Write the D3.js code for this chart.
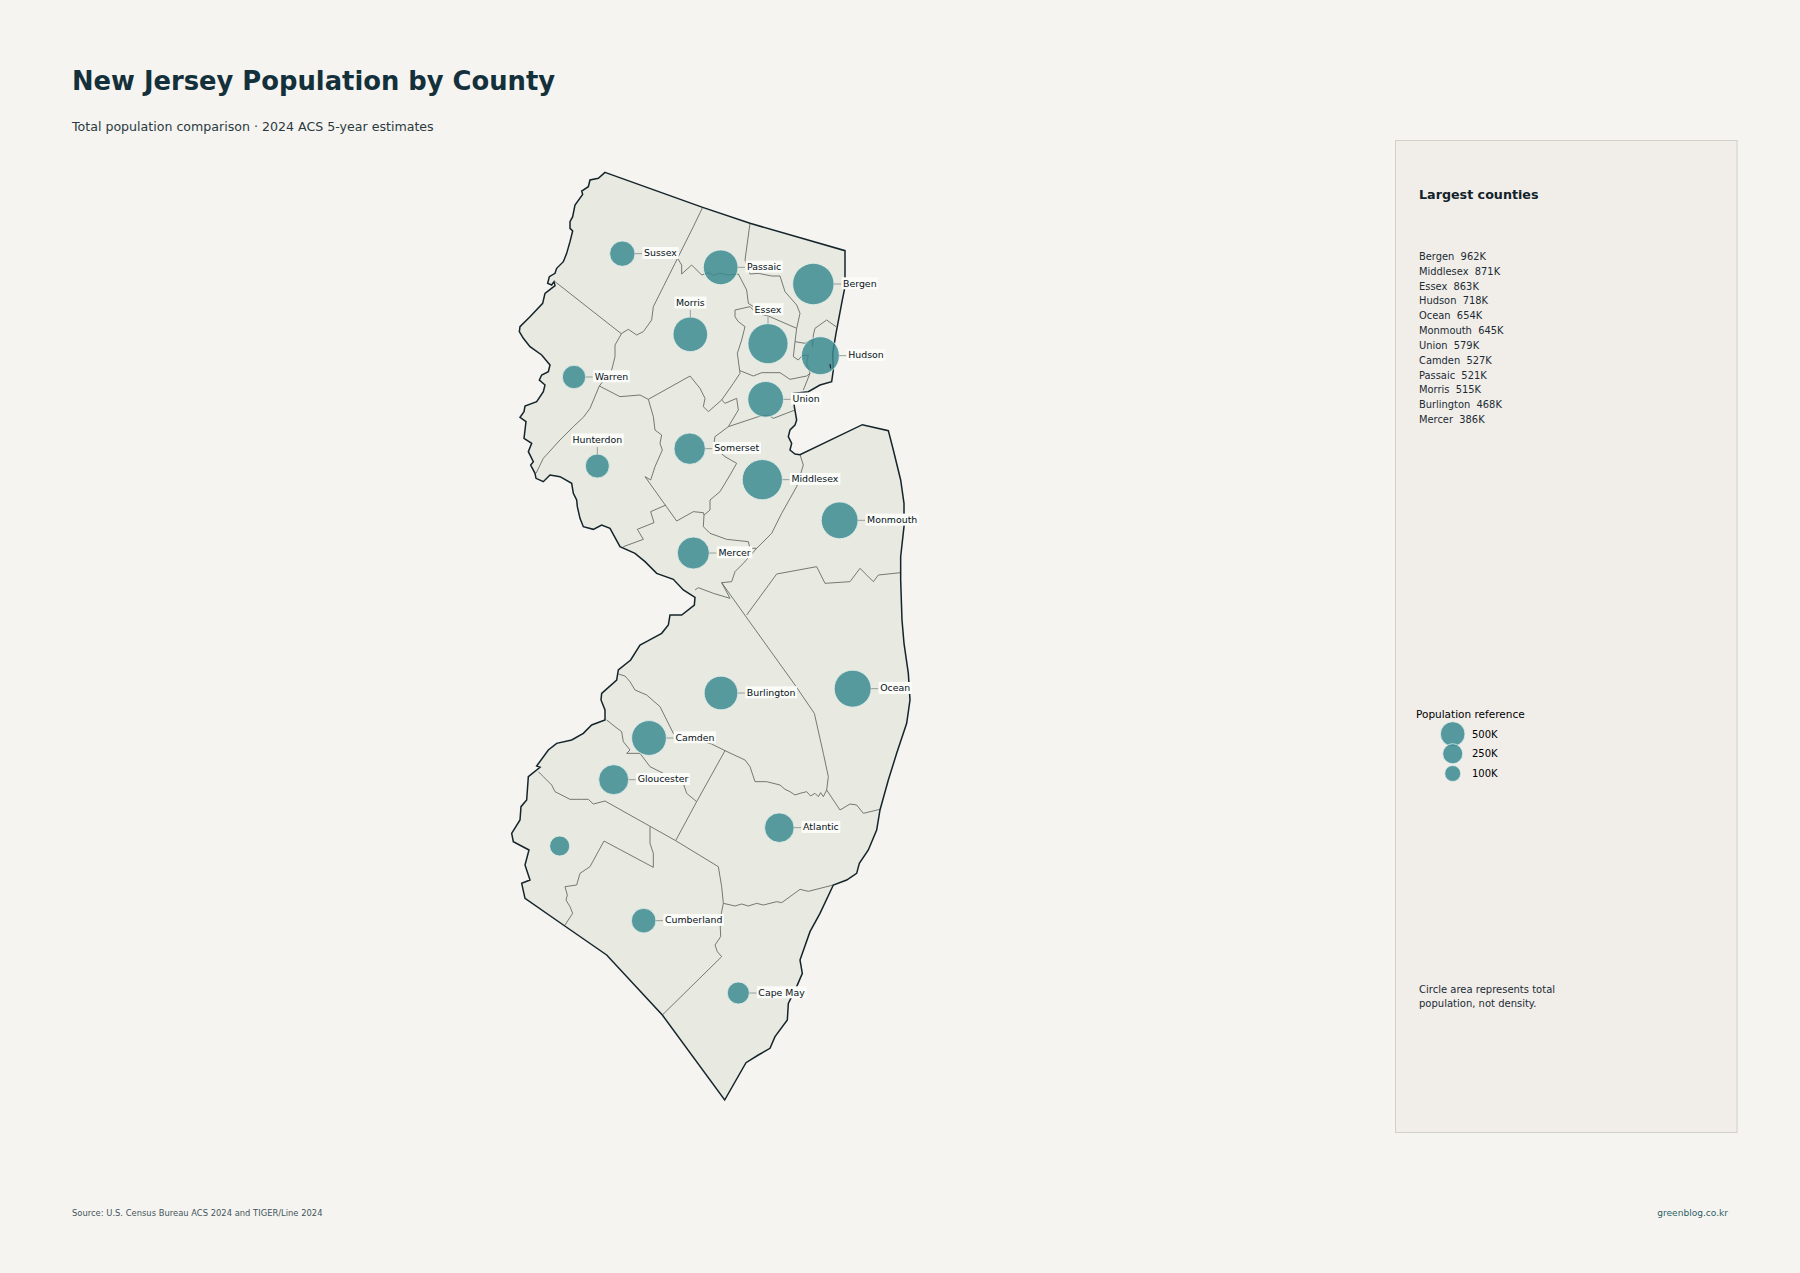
<!DOCTYPE html>
<html>
<head>
<meta charset="utf-8">
<title>New Jersey Population by County</title>
<script src="https://cdn.jsdelivr.net/npm/d3@7"></script>
<style>
  html, body { margin: 0; padding: 0; background: #f5f4f0; }
  svg { display: block; font-family: "DejaVu Sans", sans-serif; }
</style>
</head>
<body>
<svg id="map" width="1800" height="1273"></svg>
<script>
// County table (population in thousands, bubble anchor in map units)
const counties = ['Sussex', 'Passaic', 'Bergen', 'Morris', 'Essex', 'Hudson', 'Warren', 'Union', 'Hunterdon', 'Somerset', 'Middlesex', 'Monmouth', 'Mercer', 'Burlington', 'Ocean', 'Camden', 'Gloucester', 'Salem', 'Atlantic', 'Cumberland', 'Cape May'];
const population = [130, 521, 962, 515, 863, 718, 80, 579, 95, 353, 871, 645, 386, 468, 654, 527, 291, 25, 275, 110, 55];
const anchorX = [427, 722, 1000, 631, 864, 1021, 282, 857, 352, 629, 847, 1079, 640, 723, 1118, 507, 401, 239, 898, 491, 775];
const anchorY = [311, 352, 402, 553, 581, 617, 681, 748, 948, 896, 989, 1111, 1209, 1629, 1616, 1764, 1889, 2088, 2033, 2312, 2529];
const labelSide = ['right', 'right', 'right', 'top', 'top', 'right', 'right', 'right', 'top', 'right', 'right', 'right', 'right', 'right', 'right', 'right', 'right', 'none', 'right', 'right', 'right'];

// Sidebar
const rankNames = ['Bergen', 'Middlesex', 'Essex', 'Hudson', 'Ocean', 'Monmouth', 'Union', 'Camden', 'Passaic', 'Morris', 'Burlington', 'Mercer'];
const rankValues = [962, 871, 863, 718, 654, 645, 579, 527, 521, 515, 468, 386];
const referenceValues = [500, 250, 100];
const noteLines = ['Circle area represents total', 'population, not density.'];

// State outline, clockwise from the NW corner (map units)
const outline = [[375,67],[668,172],[810,220],[1095,302],[1095,410],[1085,460],[1068,550],[1058,610],[1060,660],[1055,695],[1020,705],[985,725],[940,730],[943,770],[950,810],[945,825],[930,840],[925,860],[935,880],[930,900],[945,912],[960,914],[1147,824],[1225,842],[1240,900],[1262,990],[1272,1060],[1272,1130],[1262,1220],[1262,1290],[1266,1410],[1272,1480],[1285,1570],[1290,1650],[1280,1720],[1250,1810],[1225,1890],[1200,1980],[1190,2040],[1165,2100],[1138,2140],[1130,2170],[1100,2190],[1060,2205],[1020,2290],[990,2345],[960,2430],[967,2470],[950,2510],[925,2560],[922,2610],[885,2660],[870,2695],[835,2715],[798,2738],[734,2850],[547,2595],[380,2415],[250,2325],[135,2245],[125,2200],[150,2190],[135,2145],[147,2100],[100,2075],[95,2050],[120,2010],[123,1970],[140,1950],[145,1880],[180,1852],[170,1848],[205,1800],[230,1780],[275,1770],[310,1750],[335,1725],[375,1710],[375,1680],[363,1650],[365,1630],[410,1590],[415,1560],[452,1530],[480,1485],[505,1472],[545,1450],[565,1425],[570,1395],[605,1395],[643,1365],[645,1342],[610,1320],[580,1288],[530,1270],[495,1235],[465,1210],[420,1190],[390,1135],[365,1125],[340,1138],[310,1130],[300,1105],[292,1070],[290,1050],[280,1030],[275,1000],[240,980],[210,975],[190,995],[168,985],[165,970],[152,945],[160,935],[145,905],[155,880],[132,865],[135,840],[138,815],[120,802],[132,785],[135,768],[170,755],[190,725],[195,705],[178,690],[185,675],[205,665],[210,645],[185,615],[150,590],[130,565],[118,545],[120,530],[150,500],[188,460],[195,430],[225,407],[222,395],[215,405],[203,400],[208,380],[225,370],[230,355],[250,335],[260,310],[270,275],[278,243],[270,235],[270,215],[278,200],[285,165],[308,133],[305,123],[325,110],[330,90],[355,85]];

// County borders, one line per shared stretch (map units)
const borders = [
  [[668,172],[640,230],[600,310],[585,340],[550,410],[520,470],[515,510],[490,545],[470,555],[445,538],[425,550]],
  [[225,395],[425,552]],
  [[425,550],[405,585],[405,620],[395,660],[358,708]],
  [[358,708],[330,775],[310,802],[280,830],[240,870],[190,925],[168,970]],
  [[358,708],[420,740],[480,735],[505,748]],
  [[505,748],[630,678],[660,715],[675,745],[670,770],[685,785],[725,750],[760,700],[780,670],[772,610],[785,570],[795,530],[775,515],[765,500],[765,480],[810,470],[830,490],[865,498],[950,535]],
  [[590,320],[605,345],[605,372],[635,345],[665,375],[685,368],[700,376],[720,370],[745,375],[775,372],[800,420],[805,460],[820,470]],
  [[810,220],[795,330],[810,372],[835,370],[875,378],[900,378],[915,425],[950,465],[960,490],[950,535],[945,575],[940,620],[955,630],[965,618]],
  [[945,575],[975,580],[995,568],[998,590],[1000,555],[1005,535],[1040,510],[1068,530]],
  [[965,618],[985,615],[980,640],[990,670]],
  [[780,662],[820,678],[845,668],[900,668],[930,688],[980,678],[990,670],[970,720]],
  [[725,750],[735,760],[770,745],[775,780],[745,830]],
  [[745,830],[835,800],[865,795],[880,805],[945,780]],
  [[745,830],[705,860],[700,890],[735,920],[770,940],[750,975],[720,1025],[690,1050],[690,1080],[672,1095]],
  [[505,748],[520,800],[525,840],[545,855],[540,880],[547,900],[525,950],[512,990],[495,980],[590,1113],[640,1085],[670,1088],[672,1095]],
  [[558,1065],[512,1085],[522,1118],[472,1138],[490,1168],[430,1190]],
  [[672,1095],[670,1130],[690,1150],[740,1168],[805,1175],[810,1195],[830,1195]],
  [[960,914],[970,945],[950,1010],[905,1090],[875,1150],[830,1195],[790,1240],[765,1265],[755,1295],[725,1298]],
  [[645,1320],[655,1313],[700,1330],[750,1345],[725,1298]],
  [[725,1298],[805,1410],[945,1605],[1003,1690],[1030,1810],[1045,1880],[1040,1920],[1030,1940],[1022,1928],[1015,1940],[1005,1930],[992,1938],[980,1925],[960,1930],[945,1935],[930,1925],[915,1918],[900,1905],[860,1895],[825,1895],[810,1850],[795,1830],[735,1802],[695,1782],[580,1750],[540,1670],[500,1635],[465,1620],[450,1595],[435,1578],[415,1572]],
  [[800,1395],[890,1272],[1010,1250],[1035,1300],[1110,1295],[1140,1255],[1180,1295],[1195,1275],[1262,1268]],
  [[1040,1920],[1080,1980],[1110,1962],[1130,1965],[1150,1990],[1200,1978]],
  [[380,1710],[405,1730],[425,1745],[430,1775],[450,1800],[440,1810],[480,1810],[510,1850],[560,1875],[610,1900],[620,1930],[650,1955]],
  [[735,1802],[650,1955],[587,2072]],
  [[175,1865],[190,1880],[215,1905],[225,1925],[270,1948],[305,1948],[325,1948],[340,1962],[375,1953],[587,2072],[715,2150],[725,2210],[730,2260]],
  [[510,2030],[510,2080],[520,2110],[520,2152],[372,2073],[330,2150],[300,2170],[290,2205],[255,2210],[262,2235],[258,2250],[270,2270],[278,2290],[255,2325]],
  [[730,2260],[765,2268],[785,2262],[805,2268],[830,2260],[850,2265],[890,2255],[905,2258],[930,2240],[960,2218],[985,2224],[1060,2205]],
  [[730,2260],[720,2310],[722,2360],[705,2385],[712,2405],[725,2420],[547,2595]]
];
const islands = [[[1050,642],[1052,655]]];

const svg = d3.select('#map');

const x = d3.scaleLinear().domain([0, 1440]).range([480, 960]);
const y = d3.scaleLinear().domain([0, 2910]).range([150, 1120]);
const radius = d3.scaleSqrt().domain([0, 962]).range([8, 20.7]);
const legendRadius = d3.scaleSqrt().domain([0, 500]).range([4.5, 12.3]);

const mapLine = d3.line().x(d => x(d[0])).y(d => y(d[1]));

// Title block
svg.append('text').attr('x', 72).attr('y', 90)
  .attr('font-size', 25.8).attr('font-weight', 'bold').attr('fill', '#14303a')
  .text('New Jersey Population by County');
svg.append('text').attr('x', 72).attr('y', 131)
  .attr('font-size', 12.6).attr('fill', '#2b3a42')
  .text('Total population comparison · 2024 ACS 5-year estimates');

// Land, borders, coast
svg.append('path').attr('d', mapLine(outline) + 'Z').attr('fill', '#e8e9e1');
svg.append('g').selectAll('path').data(borders).enter().append('path')
  .attr('d', mapLine)
  .attr('fill', 'none').attr('stroke', '#666c68').attr('stroke-width', 0.9);
svg.append('path').attr('d', mapLine(outline) + 'Z')
  .attr('fill', 'none').attr('stroke', '#14242b').attr('stroke-width', 1.5);

// Bubbles and labels
const rows = counties.map((name, i) => ({
  name, pop: population[i], cx: x(anchorX[i]), cy: y(anchorY[i]), side: labelSide[i]
}));

svg.append('g').selectAll('circle').data(rows).enter().append('circle')
  .attr('cx', d => d.cx).attr('cy', d => d.cy).attr('r', d => radius(d.pop))
  .attr('fill', '#3a8a90').attr('fill-opacity', 0.84)
  .attr('stroke', '#e6f0ee').attr('stroke-width', 0.8);

// Small islands sit on top of the Hudson bubble
svg.append('g').selectAll('path').data(islands).enter().append('path')
  .attr('d', mapLine)
  .attr('fill', 'none').attr('stroke', '#14242b').attr('stroke-width', 1.2);

const labels = svg.append('g').selectAll('g').data(rows.filter(d => d.side !== 'none')).enter().append('g');

labels.append('line')
  .attr('x1', d => d.side === 'top' ? d.cx : d.cx + radius(d.pop))
  .attr('x2', d => d.side === 'top' ? d.cx : d.cx + radius(d.pop) + 7)
  .attr('y1', d => d.side === 'top' ? d.cy - radius(d.pop) : d.cy)
  .attr('y2', d => d.side === 'top' ? d.cy - radius(d.pop) - 7 : d.cy)
  .attr('stroke', '#7d8a88').attr('stroke-width', 0.8);

const labelText = labels.append('text')
  .attr('x', d => d.side === 'top' ? d.cx : d.cx + radius(d.pop) + 9)
  .attr('y', d => d.side === 'top' ? d.cy - radius(d.pop) - 11 : d.cy + 2.8)
  .attr('text-anchor', d => d.side === 'top' ? 'middle' : 'start')
  .attr('font-size', 9.4).attr('fill', '#06121a')
  .text(d => d.name);

labelText.each(function () {
  const box = this.getBBox();
  d3.select(this.parentNode).insert('rect', 'text')
    .attr('x', box.x - 1.5).attr('y', box.y - 0.5)
    .attr('width', box.width + 3).attr('height', box.height + 1)
    .attr('fill', '#fbfbf8');
});

// Sidebar panel
svg.append('rect').attr('x', 1395.5).attr('y', 140.5).attr('width', 341.5).attr('height', 992)
  .attr('fill', '#f1eeea').attr('stroke', '#cfd0c6').attr('stroke-width', 1);
svg.append('text').attr('x', 1419).attr('y', 199)
  .attr('font-size', 12.7).attr('font-weight', 'bold').attr('fill', '#12222a')
  .text('Largest counties');

const rankY = d3.scalePoint().domain(rankNames).range([260, 423]);
svg.append('g').selectAll('text').data(rankNames).enter().append('text')
  .attr('x', 1419).attr('y', d => rankY(d))
  .attr('font-size', 9.9).attr('fill', '#1c2b33')
  .text((d, i) => d + '\u00a0\u00a0' + rankValues[i] + 'K');

// Size reference
svg.append('text').attr('x', 1416).attr('y', 718)
  .attr('font-size', 10.5).attr('fill', '#000').text('Population reference');
const refY = d3.scalePoint().domain(referenceValues).range([734, 773.5]);
svg.append('g').selectAll('circle').data(referenceValues).enter().append('circle')
  .attr('cx', 1452.7).attr('cy', d => refY(d)).attr('r', d => legendRadius(d))
  .attr('fill', '#3a8a90').attr('fill-opacity', 0.85)
  .attr('stroke', '#e6f0ee').attr('stroke-width', 0.8);
svg.append('g').selectAll('text').data(referenceValues).enter().append('text')
  .attr('x', 1472).attr('y', d => refY(d) + 3.5)
  .attr('font-size', 10).attr('fill', '#000').text(d => d + 'K');

// Note
svg.append('g').selectAll('text').data(noteLines).enter().append('text')
  .attr('x', 1419).attr('y', (d, i) => 993 + i * 13.5)
  .attr('font-size', 10).attr('fill', '#1c2b33').text(d => d);

// Footer
svg.append('text').attr('x', 72).attr('y', 1216)
  .attr('font-size', 8.4).attr('fill', '#45555c')
  .text('Source: U.S. Census Bureau ACS 2024 and TIGER/Line 2024');
svg.append('text').attr('x', 1728).attr('y', 1216).attr('text-anchor', 'end')
  .attr('font-size', 9.05).attr('fill', '#2d5f66')
  .text('greenblog.co.kr');
</script>
</body>
</html>
